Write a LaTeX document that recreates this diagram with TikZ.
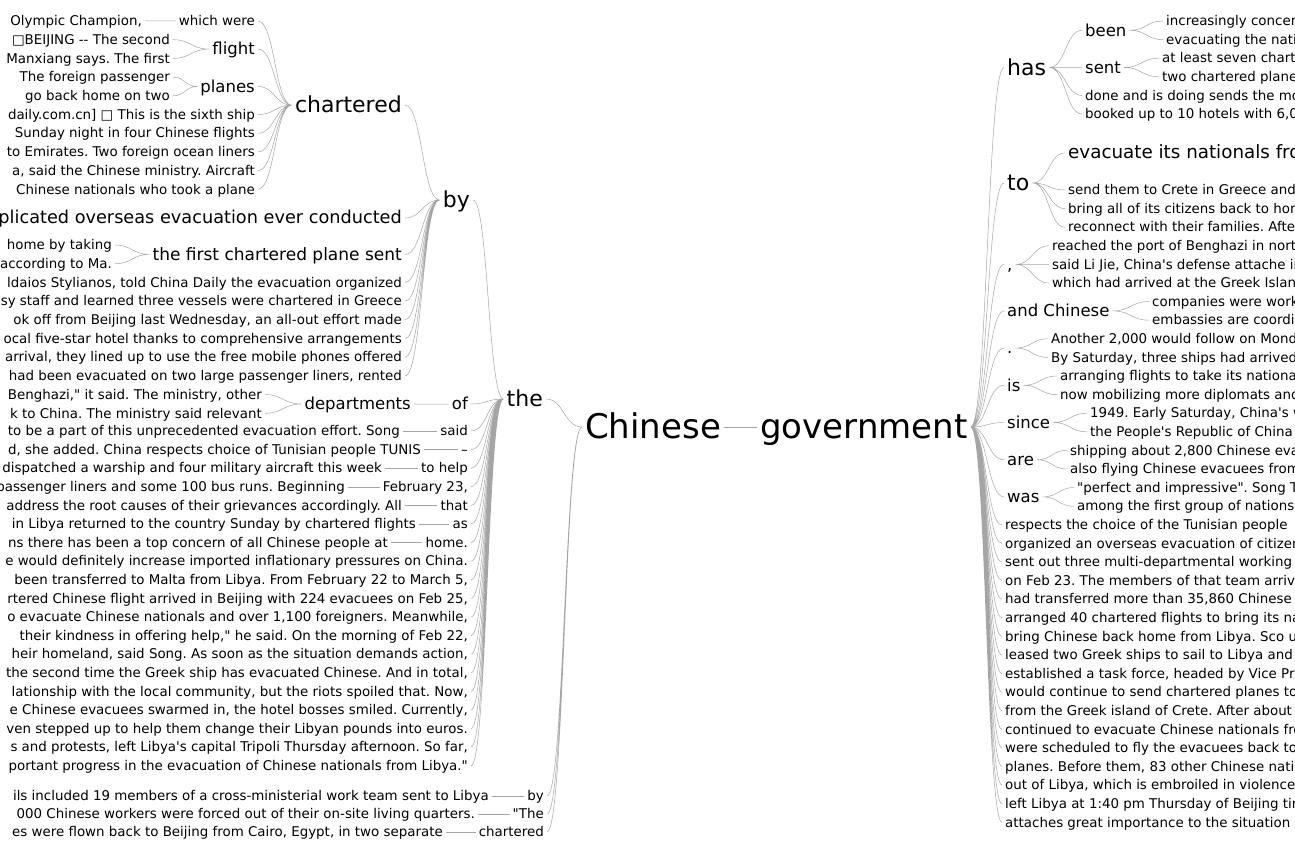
\documentclass[tikz,border=0pt]{standalone}
\usepackage{fontspec}
\setmainfont{DejaVu Sans}[Ligatures=TeXOff]
\usetikzlibrary{calc}
\definecolor{linkgray}{RGB}{165,165,165}
\tikzset{
  leaf/.style={font=\fontsize{13.4}{15}\selectfont, inner xsep=3pt, inner ysep=0pt, text height=10.7pt, text depth=1.3pt},
  word/.style={font=\fontsize{16.5}{19}\selectfont, inner xsep=3pt, inner ysep=0pt, text height=13.2pt, text depth=1.6pt},
  phrase/.style={font=\fontsize{17}{20}\selectfont, inner xsep=3pt, inner ysep=0pt, text height=13.6pt, text depth=1.7pt},
  bigphrase/.style={phrase, font=\fontsize{18.3}{21}\selectfont},
  head/.style={font=\fontsize{22}{26}\selectfont, inner xsep=3pt, inner ysep=0pt, text height=17.6pt, text depth=2.2pt},
  root/.style={font=\fontsize{34}{40}\selectfont, inner xsep=3pt, inner ysep=0pt, text height=27.2pt, text depth=3.4pt},
  lhs/.style={anchor=east}, rhs/.style={anchor=west},
  link/.style={draw=linkgray, line width=.5pt,
    to path={let \p1=(\tikztostart), \p2=(\tikztotarget) in
      .. controls ({(\x1+\x2)/2},\y1) and ({(\x1+\x2)/2},\y2) .. (\tikztotarget)}}
}
\begin{document}
\frenchspacing
\begin{tikzpicture}[x=1pt,y=-1pt]
\useasboundingbox (0,0) rectangle (1295,843);
\fill[white] (0,0) rectangle (1295,843);
\clip (0,0) rectangle (1295,843);

%% root
\node[root,rhs] (chinese) at (582,427) {Chinese};
\node[root,rhs] (govt) at (757,427) {government};
\draw[link] (chinese.east) to (govt.west);

%% left: the
\node[head,lhs] (the) at (546,399) {the};
\draw[link] (the.east) to (chinese.west);

%% left: bottom three
\node[leaf,lhs] (byC) at (547,796) {by};
\node[leaf,lhs] (theQ) at (547,814) {"The};
\node[leaf,lhs] (chartC) at (547,832) {chartered};
\node[leaf,lhs] (byC1) at (492,796) {ils included 19 members of a cross-ministerial work team sent to Libya};
\node[leaf,lhs] (theQ1) at (478,814) {000 Chinese workers were forced out of their on-site living quarters.};
\node[leaf,lhs] (chartC1) at (446,832) {es were flown back to Beijing from Cairo, Egypt, in two separate};
\draw[link] (byC.east) to (chinese.west) (theQ.east) to (chinese.west) (chartC.east) to (chinese.west);
\draw[link] (byC1.east) to (byC.west) (theQ1.east) to (theQ.west) (chartC1.east) to (chartC.west);

%% the -> children
\node[head,lhs] (by) at (473,200) {by};
\node[word,lhs] (of) at (471,404) {of};
\node[leaf,lhs] (said) at (471,431) {said};
\node[leaf,lhs] (dash) at (471,449.6) {–};
\node[leaf,lhs] (tohelp) at (471,468.2) {to help};
\node[leaf,lhs] (feb) at (471,486.8) {February 23,};
\node[leaf,lhs] (that) at (471,505.4) {that};
\node[leaf,lhs] (as) at (471,524) {as};
\node[leaf,lhs] (home) at (471,542.6) {home.};
\node[leaf,lhs] (t1) at (471,561.2) {e would definitely increase imported inflationary pressures on China.};
\node[leaf,lhs] (t2) at (471,579.8) {been transferred to Malta from Libya. From February 22 to March 5,};
\node[leaf,lhs] (t3) at (471,598.4) {rtered Chinese flight arrived in Beijing with 224 evacuees on Feb 25,};
\node[leaf,lhs] (t4) at (471,617) {o evacuate Chinese nationals and over 1,100 foreigners. Meanwhile,};
\node[leaf,lhs] (t5) at (471,635.6) {their kindness in offering help," he said. On the morning of Feb 22,};
\node[leaf,lhs] (t6) at (471,654.2) {heir homeland, said Song. As soon as the situation demands action,};
\node[leaf,lhs] (t7) at (471,672.8) {the second time the Greek ship has evacuated Chinese. And in total,};
\node[leaf,lhs] (t8) at (471,691.4) {lationship with the local community, but the riots spoiled that. Now,};
\node[leaf,lhs] (t9) at (471,710) {e Chinese evacuees swarmed in, the hotel bosses smiled. Currently,};
\node[leaf,lhs] (t10) at (471,728.6) {ven stepped up to help them change their Libyan pounds into euros.};
\node[leaf,lhs] (t11) at (471,747.2) {s and protests, left Libya's capital Tripoli Thursday afternoon. So far,};
\node[leaf,lhs] (t12) at (471,765.8) {portant progress in the evacuation of Chinese nationals from Libya."};
\draw[link] (by.east) to (the.west) (of.east) to (the.west) (said.east) to (the.west)
  (dash.east) to (the.west) (tohelp.east) to (the.west) (feb.east) to (the.west)
  (that.east) to (the.west) (as.east) to (the.west) (home.east) to (the.west)
  (t1.east) to (the.west) (t2.east) to (the.west) (t3.east) to (the.west)
  (t4.east) to (the.west) (t5.east) to (the.west) (t6.east) to (the.west)
  (t7.east) to (the.west) (t8.east) to (the.west) (t9.east) to (the.west)
  (t10.east) to (the.west) (t11.east) to (the.west) (t12.east) to (the.west);

%% of / said / ... single phrases
\node[word,lhs] (dept) at (414,404) {departments};
\node[leaf,lhs] (dept1) at (265,394.6) {Benghazi," it said. The ministry, other};
\node[leaf,lhs] (dept2) at (265,413.3) {k to China. The ministry said relevant};
\node[leaf,lhs] (said1) at (403,431) {to be a part of this unprecedented evacuation effort. Song};
\node[leaf,lhs] (dash1) at (424,449.6) {d, she added. China respects choice of Tunisian people TUNIS};
\node[leaf,lhs] (tohelp1) at (385,468.2) {dispatched a warship and four military aircraft this week};
\node[leaf,lhs] (feb1) at (348,486.8) {passenger liners and some 100 bus runs. Beginning};
\node[leaf,lhs] (that1) at (405,505.4) {address the root causes of their grievances accordingly. All};
\node[leaf,lhs] (as1) at (419,524) {in Libya returned to the country Sunday by chartered flights};
\node[leaf,lhs] (home1) at (391,542.6) {ns there has been a top concern of all Chinese people at};
\draw[link] (dept.east) to (of.west) (dept1.east) to (dept.west) (dept2.east) to (dept.west);
\draw[link] (said1.east) to (said.west) (dash1.east) to (dash.west) (tohelp1.east) to (tohelp.west)
  (feb1.east) to (feb.west) (that1.east) to (that.west) (as1.east) to (as.west) (home1.east) to (home.west);

%% by -> children
\node[head,lhs] (chart) at (405,105.2) {chartered};
\node[bigphrase,lhs,font=\fontsize{17.7}{21}\selectfont] (conducted) at (405,218) {complicated overseas evacuation ever conducted};
\node[phrase,lhs] (plane) at (405,254.4) {the first chartered plane sent};
\node[leaf,lhs] (b1) at (405,282.4) {ldaios Stylianos, told China Daily the evacuation organized};
\node[leaf,lhs] (b2) at (405,301.1) {sy staff and learned three vessels were chartered in Greece};
\node[leaf,lhs] (b3) at (405,319.8) {ok off from Beijing last Wednesday, an all-out effort made};
\node[leaf,lhs] (b4) at (405,338.5) {ocal five-star hotel thanks to comprehensive arrangements};
\node[leaf,lhs] (b5) at (405,357.2) {arrival, they lined up to use the free mobile phones offered};
\node[leaf,lhs] (b6) at (405,375.9) {had been evacuated on two large passenger liners, rented};
\node[leaf,lhs] (plane1) at (115,245) {home by taking};
\node[leaf,lhs] (plane2) at (115,263.7) {according to Ma.};
\draw[link] (chart.east) to (by.west) (conducted.east) to (by.west) (plane.east) to (by.west)
  (b1.east) to (by.west) (b2.east) to (by.west) (b3.east) to (by.west)
  (b4.east) to (by.west) (b5.east) to (by.west) (b6.east) to (by.west);
\draw[link] (plane1.east) to (plane.west) (plane2.east) to (plane.west);

%% chartered -> children
\node[leaf,lhs] (which) at (258,21) {which were};
\node[word,lhs] (flight) at (258,49.1) {flight};
\node[word,lhs] (planes) at (258,86.5) {planes};
\node[leaf,lhs] (c1) at (258,114.5) {daily.com.cn] □ This is the sixth ship};
\node[leaf,lhs] (c2) at (258,133.2) {Sunday night in four Chinese flights};
\node[leaf,lhs] (c3) at (258,151.9) {to Emirates. Two foreign ocean liners};
\node[leaf,lhs] (c4) at (258,170.6) {a, said the Chinese ministry. Aircraft};
\node[leaf,lhs] (c5) at (258,189.3) {Chinese nationals who took a plane};
\node[leaf,lhs] (which1) at (145,21) {Olympic Champion,};
\node[leaf,lhs] (flight1) at (173,39.7) {□BEIJING -{}- The second};
\node[leaf,lhs] (flight2) at (173,58.4) {Manxiang says. The first};
\node[leaf,lhs] (planes1) at (173,77.1) {The foreign passenger};
\node[leaf,lhs] (planes2) at (173,95.8) {go back home on two};
\draw[link] (which.east) to (chart.west) (flight.east) to (chart.west) (planes.east) to (chart.west)
  (c1.east) to (chart.west) (c2.east) to (chart.west) (c3.east) to (chart.west)
  (c4.east) to (chart.west) (c5.east) to (chart.west);
\draw[link] (which1.east) to (which.west) (flight1.east) to (flight.west) (flight2.east) to (flight.west)
  (planes1.east) to (planes.west) (planes2.east) to (planes.west);

%% right: government -> children
\node[head,rhs] (has) at (1004,67.5) {has};
\node[head,rhs] (to) at (1004,183) {to};
\node[word,rhs] (comma) at (1004,264.4) {,};
\node[word,rhs] (andch) at (1004,310.9) {and Chinese};
\node[word,rhs] (period) at (1004,348.1) {.};
\node[word,rhs] (is) at (1004,385.3) {is};
\node[word,rhs] (since) at (1004,422.5) {since};
\node[word,rhs] (are) at (1004,459.7) {are};
\node[word,rhs] (was) at (1004,496.9) {was};
\node[leaf,rhs] (g1) at (1002,524.8) {respects the choice of the Tunisian people};
\node[leaf,rhs] (g2) at (1002,543.4) {organized an overseas evacuation of citizens};
\node[leaf,rhs] (g3) at (1002,562) {sent out three multi-departmental working};
\node[leaf,rhs] (g4) at (1002,580.6) {on Feb 23. The members of that team arrived};
\node[leaf,rhs] (g5) at (1002,599.2) {had transferred more than 35,860 Chinese};
\node[leaf,rhs] (g6) at (1002,617.8) {arranged 40 chartered flights to bring its nationals};
\node[leaf,rhs] (g7) at (1002,636.4) {bring Chinese back home from Libya. Sco u};
\node[leaf,rhs] (g8) at (1002,655) {leased two Greek ships to sail to Libya and};
\node[leaf,rhs] (g9) at (1002,673.6) {established a task force, headed by Vice Premier};
\node[leaf,rhs] (g10) at (1002,692.2) {would continue to send chartered planes to};
\node[leaf,rhs] (g11) at (1002,710.8) {from the Greek island of Crete. After about};
\node[leaf,rhs] (g12) at (1002,729.4) {continued to evacuate Chinese nationals from};
\node[leaf,rhs] (g13) at (1002,748) {were scheduled to fly the evacuees back to};
\node[leaf,rhs] (g14) at (1002,766.6) {planes. Before them, 83 other Chinese nationals};
\node[leaf,rhs] (g15) at (1002,785.2) {out of Libya, which is embroiled in violence};
\node[leaf,rhs] (g16) at (1002,803.8) {left Libya at 1:40 pm Thursday of Beijing time};
\node[leaf,rhs] (g17) at (1002,822.4) {attaches great importance to the situation and};
\draw[link] (govt.east) to (has.west) (govt.east) to (to.west) (govt.east) to (comma.west)
  (govt.east) to (andch.west) (govt.east) to (period.west) (govt.east) to (is.west)
  (govt.east) to (since.west) (govt.east) to (are.west) (govt.east) to (was.west)
  (govt.east) to (g1.west) (govt.east) to (g2.west) (govt.east) to (g3.west)
  (govt.east) to (g4.west) (govt.east) to (g5.west) (govt.east) to (g6.west)
  (govt.east) to (g7.west) (govt.east) to (g8.west) (govt.east) to (g9.west)
  (govt.east) to (g10.west) (govt.east) to (g11.west) (govt.east) to (g12.west)
  (govt.east) to (g13.west) (govt.east) to (g14.west) (govt.east) to (g15.west)
  (govt.east) to (g16.west) (govt.east) to (g17.west);

%% has
\node[word,rhs] (been) at (1082,30.3) {been};
\node[word,rhs] (sent) at (1082,67.5) {sent};
\node[leaf,rhs] (has1) at (1082,95.4) {done and is doing sends the most};
\node[leaf,rhs] (has2) at (1082,114) {booked up to 10 hotels with 6,000};
\node[leaf,rhs] (been1) at (1163,21) {increasingly concerned};
\node[leaf,rhs] (been2) at (1163,39.6) {evacuating the nationals};
\node[leaf,rhs] (sent1) at (1159,58.2) {at least seven chartered};
\node[leaf,rhs] (sent2) at (1159,76.8) {two chartered planes};
\draw[link] (has.east) to (been.west) (has.east) to (sent.west) (has.east) to (has1.west) (has.east) to (has2.west);
\draw[link] (been.east) to (been1.west) (been.east) to (been2.west) (sent.east) to (sent1.west) (sent.east) to (sent2.west);

%% to
\node[bigphrase,rhs] (to1) at (1065,153) {evacuate its nationals from};
\node[leaf,rhs] (to2) at (1065,190) {send them to Crete in Greece and};
\node[leaf,rhs] (to3) at (1065,208.6) {bring all of its citizens back to home};
\node[leaf,rhs] (to4) at (1065,227.2) {reconnect with their families. After};
\draw[link] (to.east) to (to1.west) (to.east) to (to2.west) (to.east) to (to3.west) (to.east) to (to4.west);

%% , and Chinese .
\node[leaf,rhs] (comma1) at (1049,245.8) {reached the port of Benghazi in northern};
\node[leaf,rhs] (comma2) at (1049,264.4) {said Li Jie, China's defense attache in};
\node[leaf,rhs] (comma3) at (1049,283) {which had arrived at the Greek Island};
\node[leaf,rhs] (andch1) at (1149,301.6) {companies were working};
\node[leaf,rhs] (andch2) at (1149,320.2) {embassies are coordinating};
\node[leaf,rhs] (period1) at (1048,338.8) {Another 2,000 would follow on Monday};
\node[leaf,rhs] (period2) at (1048,357.4) {By Saturday, three ships had arrived};
\draw[link] (comma.east) to (comma1.west) (comma.east) to (comma2.west) (comma.east) to (comma3.west);
\draw[link] (andch.east) to (andch1.west) (andch.east) to (andch2.west);
\draw[link] (period.east) to (period1.west) (period.east) to (period2.west);

%% is since are was
\node[leaf,rhs] (is1) at (1057,376) {arranging flights to take its nationals};
\node[leaf,rhs] (is2) at (1057,394.6) {now mobilizing more diplomats and};
\node[leaf,rhs] (since1) at (1087,413.2) {1949. Early Saturday, China's warship};
\node[leaf,rhs] (since2) at (1087,431.8) {the People's Republic of China};
\node[leaf,rhs] (are1) at (1067,450.4) {shipping about 2,800 Chinese evacuees};
\node[leaf,rhs] (are2) at (1067,469) {also flying Chinese evacuees from};
\node[leaf,rhs] (was1) at (1074,487.6) {"perfect and impressive". Song Tao};
\node[leaf,rhs] (was2) at (1074,506.2) {among the first group of nations};
\draw[link] (is.east) to (is1.west) (is.east) to (is2.west) (since.east) to (since1.west) (since.east) to (since2.west);
\draw[link] (are.east) to (are1.west) (are.east) to (are2.west) (was.east) to (was1.west) (was.east) to (was2.west);
\end{tikzpicture}
\end{document}
